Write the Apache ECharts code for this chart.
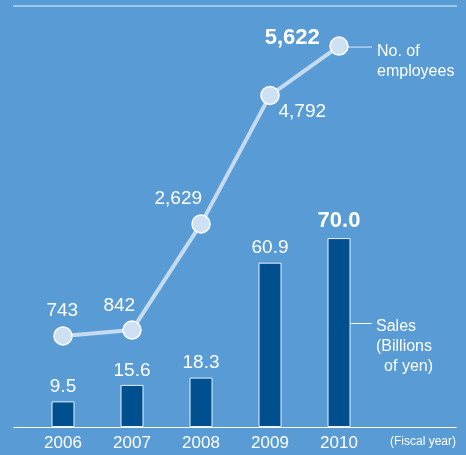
<!DOCTYPE html>
<html>
<head>
<meta charset="utf-8">
<script src="https://cdn.jsdelivr.net/npm/echarts@6/dist/echarts.min.js"></script>
<style>
  html, body { margin: 0; padding: 0; background: #589bd5; }
  #chart { width: 466px; height: 455px; }
</style>
</head>
<body>
<div id="chart"></div>
<script>
// Fiscal years and the two series
const years = ['2006', '2007', '2008', '2009', '2010'];
const sales = [9.5, 15.6, 18.3, 60.9, 70.0];          // billions of yen
const employees = [743, 842, 2629, 4792, 5622];        // headcount

const FONT = '"Liberation Sans", Arial, sans-serif';
const WHITE = '#ffffff';
const LINE = '#c6dbf0';
const SYMBOL = 18;

// label centre offset from each employee point, in pixels
const empLabelShift = [[0, -24], [-12, -24], [-22, -24], [33, 17], [-46, -7]];

const chart = echarts.init(document.getElementById('chart'));

const option = {
  backgroundColor: '#589bd5',
  animation: false,
  grid: { left: 28.5, right: 92.5, top: 6, bottom: 28 },
  xAxis: {
    type: 'category',
    data: years,
    axisLine: { show: false },
    axisTick: { show: false },
    axisLabel: { color: WHITE, fontSize: 17, fontFamily: FONT, margin: 8 }
  },
  yAxis: [
    { type: 'value', min: 0, max: 156, show: false, splitLine: { show: false } },
    { type: 'value', min: -790, max: 6297, show: false, splitLine: { show: false } }
  ],
  series: [
    {
      type: 'bar',
      data: sales.map((v, i) => ({
        value: v,
        label: i === sales.length - 1
          ? { fontWeight: 'bold', fontSize: 22, distance: 6 }
          : {}
      })),
      barWidth: 23,
      itemStyle: { color: '#00508f', borderColor: '#e8f1fa', borderWidth: 1 },
      label: {
        show: true,
        position: 'top',
        distance: 5,
        color: WHITE,
        fontSize: 19,
        fontFamily: FONT,
        formatter: p => p.value.toFixed(1)
      }
    },
    {
      type: 'line',
      yAxisIndex: 1,
      data: employees.map((v, i) => ({
        value: v,
        label: Object.assign(
          i === employees.length - 1 ? { fontWeight: 'bold', fontSize: 22 } : {},
          { position: [SYMBOL / 2 + empLabelShift[i][0], SYMBOL / 2 + empLabelShift[i][1]] }
        )
      })),
      symbol: 'circle',
      symbolSize: SYMBOL,
      lineStyle: { color: LINE, width: 4 },
      itemStyle: { color: '#cde0f4', borderColor: WHITE, borderWidth: 1.5 },
      label: {
        show: true,
        color: WHITE,
        fontSize: 19,
        fontFamily: FONT,
        align: 'center',
        verticalAlign: 'middle',
        formatter: p => p.value.toLocaleString('en-US')
      },
      z: 5
    }
  ]
};

chart.setOption(option);

// Frame rules, connectors and series captions, anchored to the data
const lastIdx = years.length - 1;
const empPt = chart.convertToPixel({ xAxisIndex: 0, yAxisIndex: 1 }, [lastIdx, employees[lastIdx]]);
const salesPt = chart.convertToPixel({ xAxisIndex: 0, yAxisIndex: 0 }, [lastIdx, sales[lastIdx]]);
const basePt = chart.convertToPixel({ xAxisIndex: 0, yAxisIndex: 0 }, [lastIdx, 0]);
const barRight = salesPt[0] + 11.5;

const caption = (text, x, y, align) => ({
  type: 'text', x, y,
  style: { text, fill: WHITE, font: '16px ' + FONT, textAlign: align || 'left', textVerticalAlign: 'middle' }
});

chart.setOption({
  graphic: [
    { type: 'line', shape: { x1: 13, y1: 6, x2: 457, y2: 6 }, style: { stroke: '#e6f0fa', lineWidth: 1 } },
    { type: 'line', shape: { x1: 13, y1: basePt[1] + 0.5, x2: 457, y2: basePt[1] + 0.5 }, style: { stroke: WHITE, lineWidth: 1.2 } },
    { type: 'line', shape: { x1: empPt[0] + 9, y1: empPt[1] + 1, x2: 372, y2: empPt[1] + 1 }, style: { stroke: '#dbe8f6', lineWidth: 1 } },
    caption('No. of', 377, 52),
    caption('employees', 377, 72),
    { type: 'line', shape: { x1: barRight, y1: 323.5, x2: 372, y2: 323.5 }, style: { stroke: WHITE, lineWidth: 1 } },
    caption('Sales', 376, 327),
    caption('(Billions', 376, 347),
    caption('of yen)', 433, 367, 'right'),
    {
      type: 'text', x: 456, y: basePt[1] + 15,
      style: { text: '(Fiscal year)', fill: WHITE, font: '12px ' + FONT, textAlign: 'right', textVerticalAlign: 'middle' }
    }
  ]
});
</script>
</body>
</html>
